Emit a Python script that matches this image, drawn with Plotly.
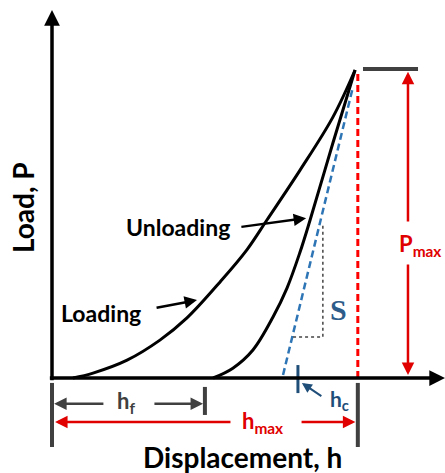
import plotly.graph_objects as go

# ---- data (normalised: displacement h / h_max, load P / P_max) ----
loading_h = [0.069, 0.135, 0.247, 0.355, 0.444, 0.553, 0.641, 0.707, 0.816, 0.924, 0.997]
loading_P = [0.000, 0.016, 0.058, 0.123, 0.195, 0.312, 0.416, 0.513, 0.675, 0.847, 1.000]

unloading_h = [0.530, 0.595, 0.661, 0.727, 0.773, 0.816, 0.849, 0.924, 0.997]
unloading_P = [0.000, 0.032, 0.091, 0.198, 0.292, 0.409, 0.513, 0.763, 1.000]

stiff_h = [0.760, 0.990]
stiff_P = [0.010, 0.945]

tri_h = [0.793, 0.891, 0.891]
tri_P = [0.133, 0.133, 0.503]

h_f = 0.503
h_c = 0.809
h_max = 1.006
P_max = 1.0

BLACK = "#000000"
GRAY = "#404040"
RED = "#E00000"
BLUE = "#2E75B6"
NAVY = "#1F4E79"
FONT = "Lato"

fig = go.Figure()

fig.add_trace(go.Scatter(x=loading_h, y=loading_P, mode="lines", line=dict(color=BLACK, width=3, shape="spline")))
fig.add_trace(go.Scatter(x=unloading_h, y=unloading_P, mode="lines", line=dict(color=BLACK, width=3, shape="spline")))
fig.add_trace(go.Scatter(x=stiff_h, y=stiff_P, mode="lines", line=dict(color=BLUE, width=2.5, dash="7px,4px")))
fig.add_trace(go.Scatter(x=tri_h, y=tri_P, mode="lines", line=dict(color="#444444", width=1.5, dash="dot")))
fig.add_trace(go.Scatter(x=[h_max, h_max], y=[0, P_max], mode="lines", line=dict(color="#FF0000", width=3, dash="7px,4px")))


def arrow(x, y, ax, ay, color, width, size=1.0, head=2):
    fig.add_annotation(x=x, y=y, ax=ax, ay=ay, xref="x", yref="y", axref="x", ayref="y",
                       text="", showarrow=True, arrowhead=head, arrowsize=size,
                       arrowwidth=width, arrowcolor=color)


def seg(x0, y0, x1, y1, color, width):
    fig.add_shape(type="line", x0=x0, y0=y0, x1=x1, y1=y1, xref="x", yref="y",
                  line=dict(color=color, width=width))


def label(x, y, text, size, color=BLACK, family=FONT, angle=0):
    fig.add_annotation(x=x, y=y, xref="x", yref="y", text=text, showarrow=False,
                       textangle=angle, font=dict(family=family, size=size, color=color),
                       xanchor="center", yanchor="middle")


# axes
arrow(0, 1.195, 0, -0.012, BLACK, 3.5, 0.9)
arrow(1.293, 0, -0.012, 0, BLACK, 3.5, 0.9)

# P_max marker
seg(1.023, P_max + 0.003, 1.204, P_max + 0.003, GRAY, 4)
arrow(1.171, 0.994, 1.171, 0.503, RED, 2.5, 1.0)
arrow(1.171, 0.01, 1.171, 0.373, RED, 2.5, 1.0)

# h_c marker
seg(h_c, 0.042, h_c, -0.049, NAVY, 3)
arrow(0.822, -0.016, 0.891, -0.062, NAVY, 2, 1.0)

# bottom bars
seg(0, -0.016, 0, -0.224, GRAY, 4)
seg(h_f, -0.029, h_f, -0.120, GRAY, 4)
seg(h_max, -0.016, h_max, -0.224, GRAY, 4)

# h_f arrows
arrow(0.007, -0.084, 0.174, -0.084, GRAY, 2.5, 1.0)
arrow(h_f - 0.006, -0.084, 0.332, -0.084, GRAY, 2.5, 1.0)

# h_max arrows
arrow(0.01, -0.143, 0.592, -0.143, RED, 2.5, 1.0)
arrow(h_max - 0.008, -0.143, 0.816, -0.143, RED, 2.5, 1.0)

# curve label arrows
arrow(0.477, 0.253, 0.339, 0.227, BLACK, 2.5, 1.0)
arrow(0.836, 0.519, 0.618, 0.490, BLACK, 2.5, 1.0)

# labels
label(0.414, 0.490, "<b>Unloading</b>", 23)
label(0.161, 0.211, "<b>Loading</b>", 23)
label(-0.095, 0.552, "<b>Load, P</b>", 28, angle=-90)
label(0.628, -0.255, "<b>Displacement, h</b>", 28)
label(0.941, 0.221, "<b>S</b>", 30, color="#2E5C8A", family="Liberation Serif")
label(0.945, -0.071, "<b>h<sub>c</sub></b>", 21, color=NAVY)
label(0.243, -0.078, "<b>h<sub>f</sub></b>", 22, color=GRAY)
label(0.691, -0.143, "<b>h<sub>max</sub></b>", 22, color=RED)
label(1.211, 0.432, "<b>P<sub>max</sub></b>", 22, color=RED)

fig.update_layout(
    width=445, height=473,
    margin=dict(l=0, r=0, t=0, b=0),
    paper_bgcolor="white", plot_bgcolor="white",
    showlegend=False,
    xaxis=dict(visible=False, range=[-52 / 304, 393 / 304], fixedrange=True),
    yaxis=dict(visible=False, range=[-95 / 308, 378 / 308], fixedrange=True),
)

fig.write_html("out.html", config={"displayModeBar": False},
               post_script="document.body.style.margin='0px';")
